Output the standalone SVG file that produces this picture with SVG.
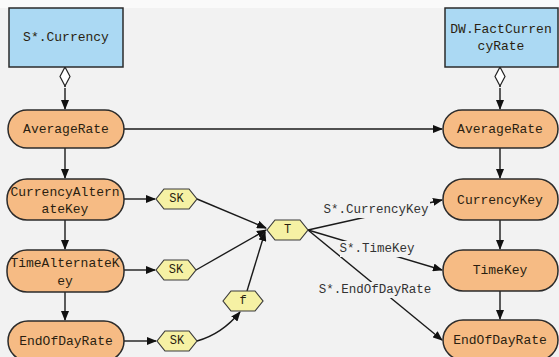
<svg xmlns="http://www.w3.org/2000/svg" width="559" height="357" viewBox="0 0 559 357">
<style>
text{font-family:"Liberation Mono","DejaVu Sans Mono",monospace;font-size:13px;fill:#2a1e10;text-anchor:middle;dominant-baseline:central}
.box{fill:#abd9f3;stroke:#2b2b2b;stroke-width:1.5}
.pill{fill:#f6bb84;stroke:#2b2b2b;stroke-width:1.5}
.hex{fill:#f6f1a4;stroke:#3a3a3a;stroke-width:1.2}
.hx{font-size:12px}
.ln{fill:none;stroke:#1a1a1a;stroke-width:1.4}
.lbl{fill:#333;font-size:12.5px}
.bg{fill:#f2f2f2}
</style>
<defs>
<marker id="ah" markerWidth="10" markerHeight="8" refX="9" refY="4" orient="auto" markerUnits="userSpaceOnUse">
<path d="M0,0 L10,4 L0,8 Z" fill="#111"/>
</marker>
<marker id="dia" markerWidth="12" markerHeight="22" refX="6" refY="1" orient="0" markerUnits="userSpaceOnUse">
<path d="M6,1 L11,10.5 L6,20 L1,10.5 Z" fill="#fff" stroke="#222" stroke-width="1.2"/>
</marker>
</defs>
<rect width="559" height="357" fill="#f2f2f2"/>
<rect width="559" height="8" fill="#fafafa"/>

<g id="connectors">
<path class="ln" d="M65,67 V87" marker-start="url(#dia)"/>
<path class="ln" d="M65,88 V109" marker-end="url(#ah)"/>
<path class="ln" d="M500,67 V87" marker-start="url(#dia)"/>
<path class="ln" d="M500,88 V109" marker-end="url(#ah)"/>
<path class="ln" d="M124,129 H442" marker-end="url(#ah)"/>
<path class="ln" d="M65,148 V178" marker-end="url(#ah)"/>
<path class="ln" d="M65,220 V249" marker-end="url(#ah)"/>
<path class="ln" d="M65,292 V320" marker-end="url(#ah)"/>
<path class="ln" d="M500,148 V178" marker-end="url(#ah)"/>
<path class="ln" d="M500,220 V249" marker-end="url(#ah)"/>
<path class="ln" d="M500,291 V319" marker-end="url(#ah)"/>
<path class="ln" d="M124,199 H155" marker-end="url(#ah)"/>
<path class="ln" d="M124,270 H155" marker-end="url(#ah)"/>
<path class="ln" d="M124,341 H156" marker-end="url(#ah)"/>
<path class="ln" d="M197,199 L266,228" marker-end="url(#ah)"/>
<path class="ln" d="M196,270 L266,230" marker-end="url(#ah)"/>
<path class="ln" d="M197,341 Q222,334 240,312" marker-end="url(#ah)"/>
<path class="ln" d="M247,291 L265,232" marker-end="url(#ah)"/>
<path class="ln" d="M308,230 L442,200" marker-end="url(#ah)"/>
<path class="ln" d="M308,230 L442,270" marker-end="url(#ah)"/>
<path class="ln" d="M308,230 L442,340" marker-end="url(#ah)"/>
<rect class="bg" x="323" y="202" width="107" height="16"/>
<text class="lbl" x="376" y="210">S*.CurrencyKey</text>
<rect class="bg" x="340" y="241" width="74" height="16"/>
<text class="lbl" x="377" y="249">S*.TimeKey</text>
<rect class="bg" x="316" y="282" width="118" height="16"/>
<text class="lbl" x="375" y="290">S*.EndOfDayRate</text>
</g>

<g id="src"><rect class="box" x="9" y="8" width="114" height="59"/><text x="66" y="37">S*.Currency</text></g>
<g id="dst"><rect class="box" x="445" y="8" width="113" height="59"/><text x="501" y="29">DW.FactCurren</text><text x="501" y="46">cyRate</text></g>

<g id="avgL"><rect class="pill" x="8" y="110" width="116" height="38" rx="19"/><text x="66" y="129">AverageRate</text></g>
<g id="cak"><rect class="pill" x="7" y="179" width="117" height="41" rx="20"/><text x="65" y="192">CurrencyAltern</text><text x="65" y="209">ateKey</text></g>
<g id="tak"><rect class="pill" x="7" y="250" width="117" height="42" rx="20"/><text x="65" y="263">TimeAlternateK</text><text x="65" y="281">ey</text></g>
<g id="eodL"><rect class="pill" x="8" y="321" width="116" height="40" rx="20"/><text x="66" y="341">EndOfDayRate</text></g>

<g id="avgR"><rect class="pill" x="443" y="110" width="115" height="38" rx="19"/><text x="500" y="129">AverageRate</text></g>
<g id="ck"><rect class="pill" x="443" y="179" width="115" height="41" rx="20"/><text x="500" y="200">CurrencyKey</text></g>
<g id="tk"><rect class="pill" x="443" y="250" width="115" height="41" rx="20"/><text x="500" y="270">TimeKey</text></g>
<g id="eodR"><rect class="pill" x="443" y="320" width="115" height="40" rx="20"/><text x="500" y="340">EndOfDayRate</text></g>

<g id="sk1"><polygon class="hex" points="156,199 164,189 189,189 197,199 189,209 164,209"/><text class="hx" x="176.5" y="199">SK</text></g>
<g id="sk2"><polygon class="hex" points="156,270 164,260 188,260 196,270 188,280 164,280"/><text class="hx" x="176" y="270">SK</text></g>
<g id="sk3"><polygon class="hex" points="157,341 165,331 189,331 197,341 189,351 165,351"/><text class="hx" x="177" y="341">SK</text></g>
<g id="f"><polygon class="hex" points="223,301 231,291 255,291 263,301 255,311 231,311"/><text class="hx" x="243" y="301">f</text></g>
<g id="T"><polygon class="hex" points="267,230 275,220 300,220 308,230 300,240 275,240"/><text class="hx" x="287.5" y="230">T</text></g>
</svg>
